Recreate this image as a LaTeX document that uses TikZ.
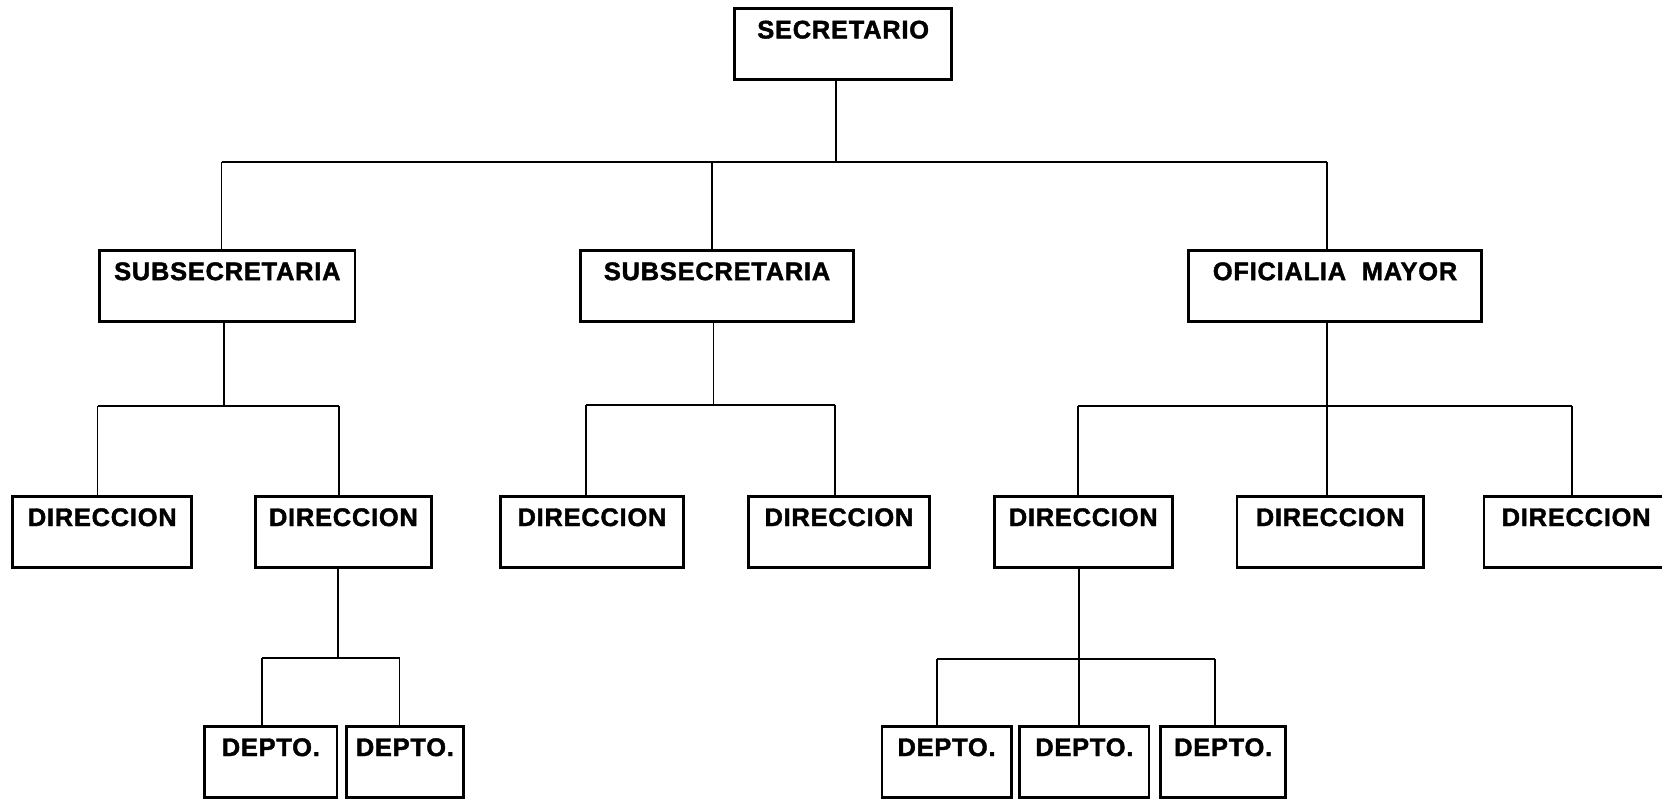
\documentclass[tikz,border=0pt]{standalone}
\usepackage{fontspec}
\newfontfamily\orgfont{Liberation Sans}[LetterSpace=3,FakeBold=1.6]
% unit box: name, centre x, top y, width (px), label
\newcommand\orgunit[5]{%
  \node[unit,anchor=north,minimum width=#4*0.5pt] (#1) at (#2,#3) {};
  \node[title] (#1-t) at ([yshift=-10.5pt]#1.north) {#5};
}
\begin{document}
\begin{tikzpicture}[x=0.5pt,y=-0.5pt,
  unit/.style={draw,line width=1.3pt,inner sep=0pt,minimum height=33.5pt},
  title/.style={font=\orgfont\bfseries\fontsize{12}{14}\selectfont,inner sep=0pt},
  conn/.style={line width=0.8pt}]
\useasboundingbox (0,0) rectangle (1568,754);
\begin{scope}
\clip (0,0) rectangle (1568,754);

% level 0
\orgunit{sec}{795.5}{7}{205}{SECRETARIO}
% level 1
\orgunit{subA}{214.5}{235}{241}{SUBSECRETARIA}
\orgunit{subB}{676.5}{235}{257}{SUBSECRETARIA}
\orgunit{ofi}{1259.5}{235}{277}{OFICIALIA\ \ MAYOR}
% level 2
\orgunit{dA}{96.5}{467}{169}{DIRECCION}
\orgunit{dB}{324}{467}{166}{DIRECCION}
\orgunit{dC}{558.5}{467}{173}{DIRECCION}
\orgunit{dD}{791.5}{467}{171}{DIRECCION}
\orgunit{dE}{1022}{467}{168}{DIRECCION}
\orgunit{dF}{1255}{467}{176}{DIRECCION}
\orgunit{dG}{1487}{467}{174}{DIRECCION}
% level 3
\orgunit{pA}{255.5}{684}{125}{DEPTO.}
\orgunit{pB}{382}{684}{110}{DEPTO.}
\orgunit{pC}{893}{684}{122}{DEPTO.}
\orgunit{pD}{1023}{684}{122}{DEPTO.}
\orgunit{pE}{1154}{684}{118}{DEPTO.}

% junction points
\coordinate (j0) at (789,153);
\coordinate (j0L) at (209,153);
\coordinate (j0M) at (672,153);
\coordinate (j0R) at (1252,153);

\coordinate (jA) at (211,383);
\coordinate (jAL) at (92,383);
\coordinate (jAR) at (320,383);

\coordinate (jB) at (673,382);
\coordinate (jBL) at (553,382);
\coordinate (jBR) at (788,382);

\coordinate (jC) at (1252,383);
\coordinate (jCL) at (1017,383);
\coordinate (jCR) at (1483,383);

\coordinate (jD) at (319,621);
\coordinate (jDL) at (247,621);
\coordinate (jDR) at (377,621);

\coordinate (jE) at (1018,622);
\coordinate (jEL) at (884,622);
\coordinate (jER) at (1146,622);

% secretary to level 1
\draw[conn] (sec.south -| j0) -- (j0);
\draw[conn] (j0L) -- (j0R);
\draw[conn] (j0L) -- (j0L |- subA.north);
\draw[conn] (j0M) -- (j0M |- subB.north);
\draw[conn] (j0R) -- (j0R |- ofi.north);

% first subsecretaria
\draw[conn] (subA.south -| jA) -- (jA);
\draw[conn] (jAL) -- (jAR);
\draw[conn] (jAL) -- (jAL |- dA.north);
\draw[conn] (jAR) -- (jAR |- dB.north);

% second subsecretaria
\draw[conn] (subB.south -| jB) -- (jB);
\draw[conn] (jBL) -- (jBR);
\draw[conn] (jBL) -- (jBL |- dC.north);
\draw[conn] (jBR) -- (jBR |- dD.north);

% oficialia mayor
\draw[conn] (ofi.south -| jC) -- (jC |- dF.north);
\draw[conn] (jCL) -- (jCR);
\draw[conn] (jCL) -- (jCL |- dE.north);
\draw[conn] (jCR) -- (jCR |- dG.north);

% departments under second direccion
\draw[conn] (dB.south -| jD) -- (jD);
\draw[conn] (jDL) -- (jDR);
\draw[conn] (jDL) -- (jDL |- pA.north);
\draw[conn] (jDR) -- (jDR |- pB.north);

% departments under fifth direccion
\draw[conn] (dE.south -| jE) -- (jE |- pD.north);
\draw[conn] (jEL) -- (jER);
\draw[conn] (jEL) -- (jEL |- pC.north);
\draw[conn] (jER) -- (jER |- pE.north);
\end{scope}
\end{tikzpicture}
\end{document}
